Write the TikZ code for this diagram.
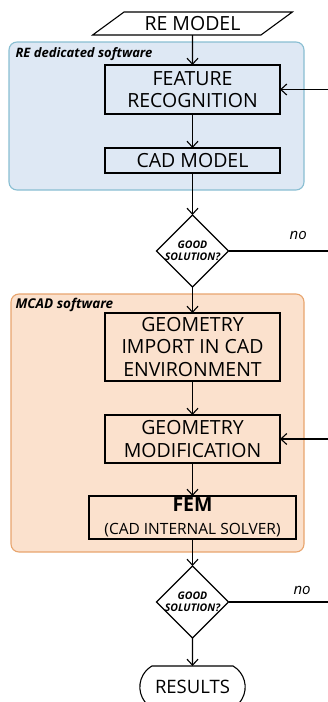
\documentclass[tikz,border=0pt]{standalone}
\usepackage{fontspec}
\setmainfont{Open Sans}
\usetikzlibrary{arrows.meta, positioning, shapes.geometric, shapes.misc}

\definecolor{refill}{HTML}{DEE8F4}
\definecolor{reedge}{HTML}{88BED2}
\definecolor{mcadfill}{HTML}{FBE1CD}
\definecolor{mcadedge}{HTML}{E8A56E}

\begin{document}
\begin{tikzpicture}[x = 1pt, y = 1pt,
                > = {Straight Barb[length=6pt, width=11pt]}, % open arrow head
                node distance = 30pt, % gap between boxes
                line width = 1.1pt % line style
            ]

            \tikzstyle{stepbox}=[draw = black, rectangle, inner sep = 2pt,
            outer sep = 0pt, minimum width = 175pt, align = center,
            font = \fontsize{19.5}{22.5}\selectfont]
            \tikzstyle{inout}=[draw = black, trapezium, trapezium left angle = 36,
            trapezium right angle = 144, trapezium stretches = true,
            minimum width = 200pt, minimum height = 23pt, inner sep = 1pt,
            outer sep = 0pt, font = \fontsize{19.5}{22}\selectfont]
            \tikzstyle{check}=[draw = black, diamond, aspect = 1, inner sep = -4.5pt,
            outer sep = 0pt, minimum size = 72pt, align = center,
            font = \bfseries\itshape\fontsize{10.5}{12}\selectfont]
            \tikzstyle{endbox}=[draw = black, rounded rectangle,
            rounded rectangle arc length = 120, minimum width = 112pt,
            minimum height = 42pt, outer sep = 0pt,
            font = \fontsize{18.5}{20}\selectfont]
            \tikzstyle{grplabel}=[inner sep = 0pt, anchor = base west,
            font = \bfseries\itshape\fontsize{13}{15}\selectfont]
            \tikzstyle{nolabel}=[inner sep = 0pt,
            font = \itshape\fontsize{15}{17}\selectfont]

            \useasboundingbox (0,0) rectangle (328,-702);
            \clip (0,0) rectangle (328,-702);
            \coordinate (rim) at (328,0);

            % software blocks
            \draw[fill = refill, draw = reedge, rounded corners = 8pt]
            (9,-42) rectangle (304,-190);
            \node[grplabel] (relbl) at (15,-57.5) {RE dedicated software};
            \draw[fill = mcadfill, draw = mcadedge, rounded corners = 8pt]
            (11,-294) rectangle (304,-552);
            \node[grplabel, font = \bfseries\itshape\fontsize{13.5}{15}\selectfont]
            (mcadlbl) at (15,-308) {MCAD software};

            \node[inout] (remodel) at (192.5,-23.5) {RE MODEL};
            \node[stepbox, minimum height = 49pt] (feat) [below = 30pt of remodel]
            {FEATURE\\RECOGNITION};
            \node[stepbox, minimum height = 25pt] (cad) [below = 34pt of feat]
            {CAD MODEL};
            \node[check] (good1) [below = 42pt of cad] {GOOD\\SOLUTION?};
            \node[stepbox, minimum height = 68pt] (geoimp) [below = 26pt of good1]
            {GEOMETRY\\IMPORT IN CAD\\ENVIRONMENT};
            \node[stepbox, minimum height = 48pt] (geomod) [below = 34pt of geoimp]
            {GEOMETRY\\MODIFICATION};
            \node[stepbox, minimum width = 207pt, minimum height = 43pt] (fem)
            [below = 33pt of geomod]
            {{\bfseries FEM}\\{\fontsize{15.5}{21}\selectfont (CAD INTERNAL SOLVER)}};
            \node[check] (good2) [below = 27pt of fem] {GOOD\\SOLUTION?};
            \node[endbox] (results) [below = 28pt of good2] {RESULTS};

            \path[->] (remodel) edge (feat); \path[->] (feat) edge (cad);
            \path[->] (cad) edge (good1); \path[->] (good1) edge (geoimp);
            \path[->] (geoimp) edge (geomod); \path[->] (geomod) edge (fem);
            \path[->] (fem) edge (good2); \path[->] (good2) edge (results);
            \path[->] (feat.east -| rim) edge (feat.east);
            \path[->] (geomod.east -| rim) edge (geomod.east);
            \path (good1.east) edge node[nolabel, pos = 0.7, above = 11pt] {no}
            (good1.east -| rim);
            \path (good2.east) edge node[nolabel, pos = 0.74, above = 7pt] {no}
            (good2.east -| rim);
\end{tikzpicture}
\end{document}
